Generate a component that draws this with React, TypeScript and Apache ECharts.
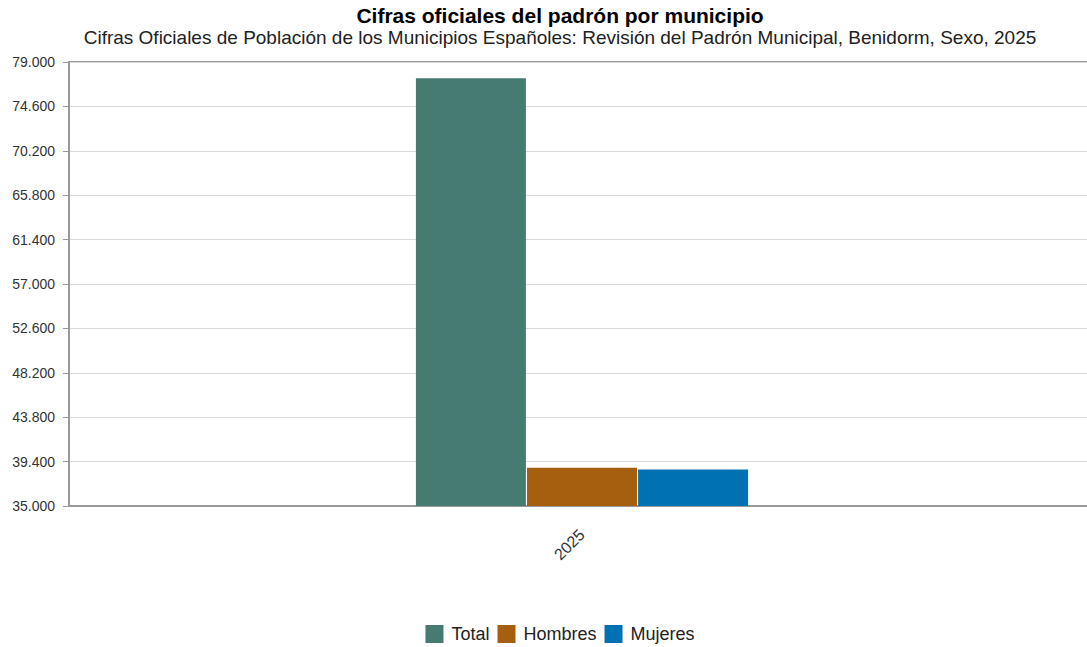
import React, { useEffect, useRef } from "react";
import * as echarts from "echarts";

const categories = ["2025"];
const seriesNames = ["Total", "Hombres", "Mujeres"];
const totalValues = [77400];
const hombresValues = [38780];
const mujeresValues = [38620];
const colors = ["#467b72", "#a65f0e", "#0071b2"];

const fmt = (v: number) => {
  const s = Math.round(v).toString().replace(/\B(?=(\d{3})+(?!\d))/g, ".");
  return s;
};
const fmtAxis = (v: number) => fmt(v);

export default function App() {
  const ref = useRef<HTMLDivElement>(null);
  useEffect(() => {
    document.body.style.margin = "0";
    document.body.style.overflow = "hidden";
    const chart = echarts.init(ref.current!, null, { renderer: "svg" });
    const data = [totalValues, hombresValues, mujeresValues];
    chart.setOption({
      animation: false,
      textStyle: { fontFamily: "Liberation Sans, Arial, sans-serif" },
      title: {
        text: "Cifras oficiales del padrón por municipio",
        subtext:
          "Cifras Oficiales de Población de los Municipios Españoles: Revisión del Padrón Municipal, Benidorm, Sexo, 2025",
        left: "center",
        top: 0,
        itemGap: 2,
        textStyle: { fontSize: 21, fontWeight: "bold", color: "#000" },
        subtextStyle: { fontSize: 19, color: "#222" },
      },
      legend: {
        top: 625,
        padding: 0,
        left: "center",
        itemWidth: 18,
        itemHeight: 18,
        itemGap: 8,
        icon: "rect",
        textStyle: { fontSize: 18, color: "#222", padding: [0, 0, 0, 3] },
        data: seriesNames,
      },
      grid: {
        left: 69,
        right: 25,
        top: 62,
        bottom: 141,
        show: true,
        borderColor: "#999",
        borderWidth: 2,
      },
      xAxis: {
        type: "category",
        data: categories,
        axisLine: { show: true, lineStyle: { color: "#999", width: 2 } },
        axisTick: { show: false },
        axisLabel: { rotate: 45, fontSize: 16, color: "#333", margin: 26 },
      },
      yAxis: {
        type: "value",
        min: 35000,
        max: 79000,
        interval: 4400,
        axisLine: { show: true, lineStyle: { color: "#999", width: 2 } },
        axisTick: { show: true, length: 6, lineStyle: { color: "#999", width: 1 } },
        axisLabel: { formatter: fmtAxis, fontSize: 14, color: "#333", margin: 14 },
        splitLine: { show: true, lineStyle: { color: "#d9d9d9", width: 1 } },
      },
      series: seriesNames.map((name, i) => ({
        name,
        type: "bar",
        data: data[i],
        barWidth: 110,
        barGap: "1%",
        itemStyle: { color: colors[i] },
      })),
    });
    return () => chart.dispose();
  }, []);
  return <div ref={ref} style={{ width: 1120, height: 647 }} />;
}
